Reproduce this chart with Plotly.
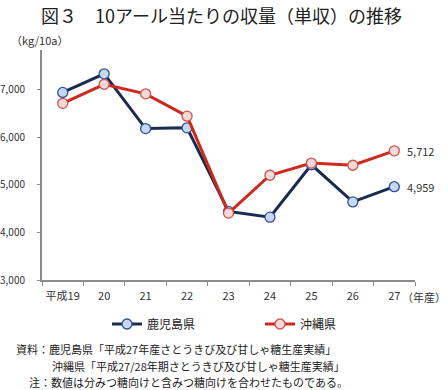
import plotly.graph_objects as go

years = ["平成19", "20", "21", "22", "23", "24", "25", "26", "27"]
kagoshima = [6940, 7330, 6180, 6195, 4440, 4320, 5420, 4640, 4959]
okinawa = [6710, 7110, 6910, 6440, 4405, 5200, 5455, 5410, 5712]

FONT = "Noto Sans CJK JP"
W, H = 448, 390
L, R, T, B = 42, 33, 50, 110
PW, PH = W - L - R, H - T - B


def px(x):
    return (x - L) / PW


def py(y):
    return (H - B - y) / PH


fig = go.Figure()
fig.add_trace(go.Scatter(
    x=years, y=kagoshima, name="鹿児島県", mode="lines+markers",
    line=dict(color="#1b2a4e", width=3),
    marker=dict(size=10, color="#c6d9f1", line=dict(color="#2e4f9c", width=1.3)),
    cliponaxis=False,
))
fig.add_trace(go.Scatter(
    x=years, y=okinawa, name="沖縄県", mode="lines+markers",
    line=dict(color="#cc2a1e", width=3),
    marker=dict(size=10, color="#f4d9d8", line=dict(color="#d0504a", width=1.3)),
    cliponaxis=False,
))

annotations = [
    dict(text="図３　10アール当たりの収量（単収）の推移", x=px(40), y=py(15),
         xanchor="left", yanchor="middle", font=dict(size=18, color="#222")),
    dict(text="（kg/10a）", x=px(10), y=py(40), xanchor="left", yanchor="middle",
         font=dict(size=11, color="#333")),
    dict(text="（年産）", x=px(447), y=py(297), xanchor="right", yanchor="middle",
         font=dict(size=11, color="#333")),
    dict(text="資料：鹿児島県「平成27年産さとうきび及び甘しゃ糖生産実績」", x=px(15), y=py(349),
         xanchor="left", yanchor="middle", font=dict(size=11, color="#222")),
    dict(text="沖縄県「平成27/28年期さとうきび及び甘しゃ糖生産実績」", x=px(51), y=py(366),
         xanchor="left", yanchor="middle", font=dict(size=11, color="#222")),
    dict(text="注：数値は分みつ糖向けと含みつ糖向けを合わせたものである。", x=px(28), y=py(382),
         xanchor="left", yanchor="middle", font=dict(size=11, color="#222")),
]
for a in annotations:
    a.update(xref="paper", yref="paper", showarrow=False, borderpad=0)

# end-point value labels (last category, by index on the category axis)
last = len(years) - 1
for vals in (kagoshima, okinawa):
    annotations.append(dict(
        x=last, y=vals[-1], xref="x", yref="y", text=f"{vals[-1]:,}",
        showarrow=False, xanchor="left", yanchor="middle", xshift=11,
        font=dict(size=11, color="#333"),
    ))

fig.update_layout(
    width=W, height=H,
    margin=dict(l=L, r=R, t=T, b=B, pad=0, autoexpand=False),
    paper_bgcolor="white", plot_bgcolor="white",
    font=dict(family=FONT, size=11, color="#333"),
    annotations=annotations,
    showlegend=True,
    legend=dict(orientation="h", xref="container", yref="container",
                x=107 / W, y=1 - 324 / H, xanchor="left", yanchor="middle",
                entrywidth=108, entrywidthmode="pixels", itemwidth=30,
                font=dict(family=FONT, size=12, color="#222"),
                bgcolor="rgba(0,0,0,0)"),
    xaxis=dict(type="category", range=[-0.5, len(years) - 0.5],
               showgrid=False, showline=True, linecolor="#8c8c8c", linewidth=2,
               ticks="outside", tickson="boundaries", ticklen=4, tickcolor="#8c8c8c", tickwidth=1,
               tickangle=0, automargin=False, ticklabelstandoff=5,
               tickfont=dict(size=11, color="#333"), zeroline=False, fixedrange=True),
    yaxis=dict(range=[3000, 7830], tickvals=[3000, 4000, 5000, 6000, 7000], tickformat=",",
               showgrid=False, showline=True, linecolor="#8c8c8c", linewidth=2,
               ticks="outside", ticklen=3, tickcolor="#8c8c8c", automargin=False,
               tickfont=dict(size=10, color="#333"), zeroline=False, ticklabelstandoff=10,
               fixedrange=True),
)

fig.write_html(
    "out.html",
    config={"displayModeBar": False},
    post_script="document.body.style.margin='0';document.body.style.overflow='hidden';",
)
